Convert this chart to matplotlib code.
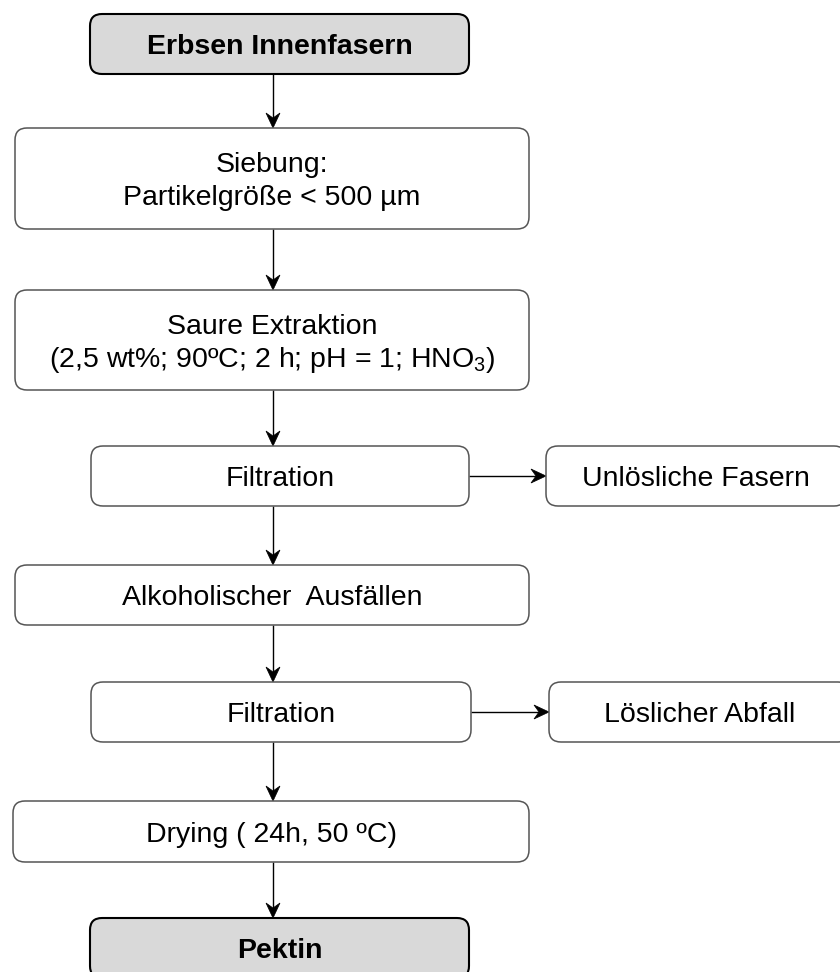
import matplotlib
matplotlib.use("Agg")
import matplotlib.pyplot as plt
from matplotlib.patches import FancyBboxPatch, Polygon

plt.rcParams['font.family'] = ['Liberation Sans', 'DejaVu Sans']
plt.rcParams['mathtext.fontset'] = 'custom'
plt.rcParams['mathtext.rm'] = 'Liberation Sans'

# main process steps (top to bottom), each a list of text lines
steps = [
    ["Erbsen Innenfasern"],
    ["Siebung:", "Partikelgröße < 500 µm"],
    ["Saure Extraktion", r"(2,5 wt%; 90ºC; 2 h; pH = 1; HNO$_\mathregular{3}$)"],
    ["Filtration"],
    ["Alkoholischer  Ausfällen"],
    ["Filtration"],
    ["Drying ( 24h, 50 ºC)"],
    ["Pektin"],
]
# side outputs: (index of step they branch from, label)
side_from = [3, 5]
side_labels = ["Unlösliche Fasern", "Löslicher Abfall"]

# layout in pixels (x0, x1, y0, y1), y measured from the top
step_boxes = [
    (90, 469, 14, 74),
    (15, 529, 128, 229),
    (15, 529, 290, 390),
    (91, 469, 446, 506),
    (15, 529, 565, 625),
    (91, 471, 682, 742),
    (13, 529, 801, 862),
    (90, 469, 918, 978),
]
side_boxes = [
    (546, 846, 446, 506),
    (549, 850, 682, 742),
]
highlight = [0, 7]
arrow_x = 273
line_gap = 32
fs = 20.5

fig = plt.figure(figsize=(8.4, 9.72), dpi=100)
ax = fig.add_axes([0, 0, 1, 1])
ax.set_xlim(0, 840)
ax.set_ylim(972, 0)
ax.axis('off')


def draw_box(x0, x1, y0, y1, lines, bold=False):
    if bold:
        fc, ec, lw = '#d9d9d9', 'black', 1.5
    else:
        fc, ec, lw = 'white', '#555555', 1.1
    box = FancyBboxPatch((x0, y0), x1 - x0, y1 - y0,
                         boxstyle="round,pad=0,rounding_size=12",
                         fc=fc, ec=ec, lw=lw, zorder=2)
    ax.add_patch(box)
    cx = (x0 + x1) / 2
    cy = (y0 + y1) / 2
    n = len(lines)
    for i, ln in enumerate(lines):
        y = cy + (i - (n - 1) / 2) * line_gap
        ax.text(cx, y, ln, ha='center', va='center_baseline', fontsize=fs,
                fontweight='bold' if bold else 'normal', color='black', zorder=3)


def draw_arrow(p0, p1, head=15, half=7, notch=5):
    # straight line with a notched ("classic") arrow head at p1
    (x0, y0), (x1, y1) = p0, p1
    dx, dy = x1 - x0, y1 - y0
    L = (dx ** 2 + dy ** 2) ** 0.5
    ux, uy = dx / L, dy / L
    px, py = -uy, ux
    bx, by = x1 - ux * head, y1 - uy * head
    nx, ny = x1 - ux * (head - notch), y1 - uy * (head - notch)
    ax.plot([x0, nx], [y0, ny], color='black', lw=1.0, zorder=1,
            solid_capstyle='butt')
    head_pts = [(x1, y1), (bx + px * half, by + py * half), (nx, ny),
                (bx - px * half, by - py * half)]
    ax.add_patch(Polygon(head_pts, closed=True, fc='black', ec='black',
                         lw=0.5, zorder=1))


for i, (lines, b) in enumerate(zip(steps, step_boxes)):
    draw_box(*b, lines, bold=(i in highlight))

for i in range(len(step_boxes) - 1):
    draw_arrow((arrow_x, step_boxes[i][3]), (arrow_x, step_boxes[i + 1][2]))

for src, label, b in zip(side_from, side_labels, side_boxes):
    draw_box(*b, [label])
    sb = step_boxes[src]
    y = (b[2] + b[3]) / 2
    draw_arrow((sb[1], y), (b[0], y))

fig.savefig("out.png", dpi=100)
